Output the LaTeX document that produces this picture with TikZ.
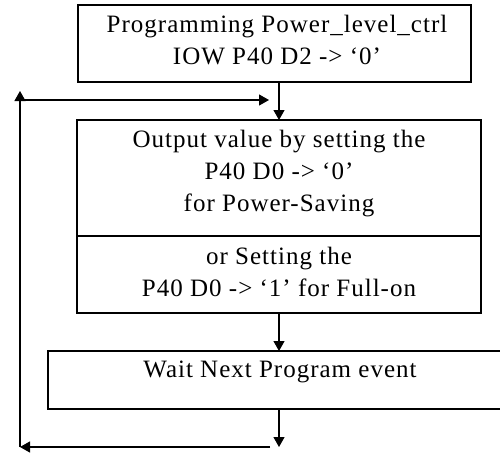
\documentclass[tikz,border=0pt]{standalone}
\usepackage{fontspec}
\setmainfont{Liberation Serif}[LetterSpace=4]
\usetikzlibrary{arrows.meta}
\begin{document}
\begin{tikzpicture}[x=1pt,y=-1pt,
  box/.style={draw,line width=1.2pt,inner sep=0pt},
  txt/.style={font=\fontsize{25}{32}\selectfont,align=center,inner sep=0pt},
  arr/.style={line width=1.2pt,-{Triangle[length=10pt,width=11pt]}}]
\useasboundingbox (0,0) rectangle (500,453);
\clip (0,0) rectangle (500,453);
\fill[white] (0,0) rectangle (500,453);
% boxes
\node[box,minimum width=393pt,minimum height=77pt] (b1) at (274.5,43.5) {};
\node[txt] (t1) at (277,40) {Programming Power\_level\_ctrl\\IOW P40 D2 -> ‘0’};
\node[box,minimum width=404pt,minimum height=116pt] (b2) at (279,178) {};
\node[txt] (t2) at (279,174) {Output value by setting the\\P40 D0 -> ‘0’\\for Power-Saving};
\node[box,minimum width=404pt,minimum height=77pt] (b3) at (279,274.5) {};
\node[txt] (t3) at (279,272) {or Setting the\\P40 D0 -> ‘1’ for Full-on};
\node[box,minimum width=472pt,minimum height=58pt] (b4) at (284,380) {};
\node[txt] (t4) at (280,372) {Wait Next Program event};
% coordinates
\coordinate (c1) at (279,82);
\coordinate (c2) at (279,120);
\coordinate (c3) at (279,313);
\coordinate (c4) at (279,351);
\coordinate (c5) at (279,409);
\coordinate (c6) at (279,447);
\coordinate (lt) at (20,100);
\coordinate (ltop) at (20,91);
\coordinate (rt) at (269,100);
\coordinate (lb) at (20,447);
\coordinate (rb) at (270,447);
% connectors
\draw[arr] (c1) -- (c2);
\draw[arr] (c3) -- (c4);
\draw[arr] (c5) -- (c6);
\draw[arr] (lb) -- (ltop);
\draw[arr] (lt) -- (rt);
\draw[arr] (rb) -- (lb);
\end{tikzpicture}
\end{document}
